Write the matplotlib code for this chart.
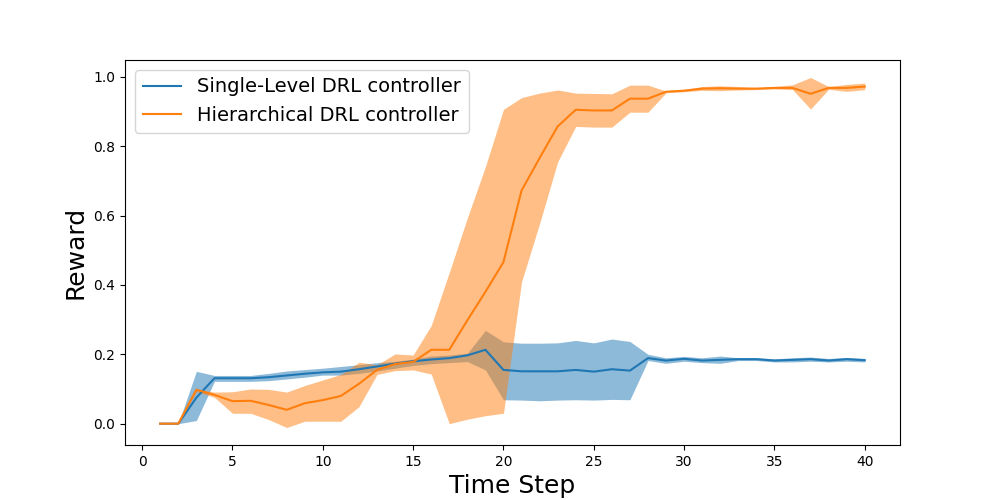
import numpy as np
import matplotlib
matplotlib.use("Agg")
import matplotlib.pyplot as plt

steps = list(range(1, 41))

single_mean = [0, 0, 0.075, 0.131, 0.131, 0.131, 0.134, 0.139, 0.144, 0.148,
               0.150, 0.157, 0.165, 0.173, 0.180, 0.185, 0.189, 0.197, 0.213, 0.155,
               0.151, 0.151, 0.151, 0.155, 0.150, 0.157, 0.153, 0.189, 0.182, 0.187,
               0.182, 0.184, 0.186, 0.186, 0.182, 0.184, 0.186, 0.182, 0.186, 0.183]
single_low = [0, 0, 0.009, 0.122, 0.122, 0.122, 0.124, 0.129, 0.134, 0.140,
              0.140, 0.145, 0.152, 0.160, 0.168, 0.173, 0.176, 0.179, 0.155, 0.069,
              0.068, 0.066, 0.068, 0.069, 0.068, 0.070, 0.069, 0.182, 0.174, 0.180,
              0.176, 0.174, 0.182, 0.182, 0.178, 0.178, 0.180, 0.178, 0.180, 0.178]
single_high = [0, 0, 0.151, 0.139, 0.139, 0.139, 0.145, 0.152, 0.156, 0.160,
               0.165, 0.170, 0.176, 0.180, 0.186, 0.195, 0.198, 0.203, 0.269, 0.236,
               0.232, 0.232, 0.233, 0.240, 0.233, 0.244, 0.237, 0.200, 0.190, 0.194,
               0.190, 0.195, 0.190, 0.190, 0.187, 0.190, 0.192, 0.188, 0.191, 0.188]

hier_mean = [0, 0, 0.098, 0.083, 0.065, 0.066, 0.054, 0.040, 0.059, 0.068,
             0.080, 0.115, 0.155, 0.172, 0.178, 0.213, 0.213, 0.298, 0.380, 0.466,
             0.672, 0.766, 0.857, 0.905, 0.903, 0.903, 0.937, 0.937, 0.957, 0.960,
             0.966, 0.967, 0.966, 0.966, 0.968, 0.968, 0.951, 0.968, 0.968, 0.972]
hier_low = [0, 0, 0.092, 0.076, 0.030, 0.030, 0.012, -0.011, 0.007, 0.007,
            0.007, 0.049, 0.142, 0.153, 0.155, 0.143, 0.0, 0.013, 0.023, 0.030,
            0.409, 0.577, 0.755, 0.857, 0.855, 0.855, 0.898, 0.898, 0.954, 0.957,
            0.961, 0.960, 0.962, 0.963, 0.965, 0.963, 0.907, 0.964, 0.958, 0.963]
hier_high = [0, 0, 0.100, 0.091, 0.092, 0.100, 0.099, 0.091, 0.110, 0.126,
             0.142, 0.177, 0.170, 0.201, 0.198, 0.283, 0.436, 0.593, 0.741, 0.906,
             0.940, 0.953, 0.962, 0.953, 0.952, 0.951, 0.976, 0.976, 0.959, 0.963,
             0.972, 0.974, 0.972, 0.968, 0.972, 0.977, 0.998, 0.972, 0.978, 0.982]

fig, ax = plt.subplots(figsize=(10, 5), dpi=100)
ax.plot(steps, single_mean, color="C0", label="Single-Level DRL controller")
ax.fill_between(steps, single_low, single_high, color="C0", alpha=0.5, linewidth=0)
ax.plot(steps, hier_mean, color="C1", label="Hierarchical DRL controller")
ax.fill_between(steps, hier_low, hier_high, color="C1", alpha=0.5, linewidth=0)

ax.set_xlabel("Time Step", fontsize=18)
ax.set_ylabel("Reward", fontsize=18)
ax.legend(loc="upper left", fontsize=14)

fig.savefig("out.png")
